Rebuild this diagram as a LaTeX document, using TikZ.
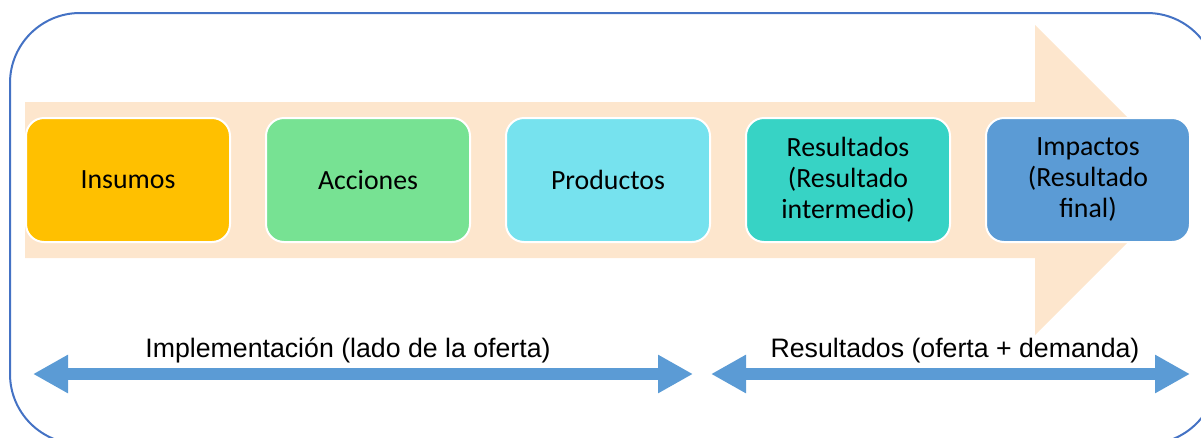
\documentclass[tikz,border=0pt]{standalone}
\usepackage{fontspec}
\setmainfont{Carlito}
\newfontfamily\arialf{Liberation Sans}
\usetikzlibrary{arrows.meta}
\definecolor{frameblue}{HTML}{4472C4}
\definecolor{peach}{HTML}{FDE6CD}
\definecolor{cIns}{HTML}{FFC000}
\definecolor{cAcc}{HTML}{77E293}
\definecolor{cPro}{HTML}{76E2EE}
\definecolor{cRes}{HTML}{37D3C5}
\definecolor{cImp}{HTML}{5B9BD5}
\definecolor{arrblue}{HTML}{5B9BD5}
\tikzset{
  stagebox/.style={draw=white, line width=2pt, rounded corners=18pt,
    minimum width=204pt, minimum height=124pt, align=center, inner sep=2pt,
    font=\fontsize{27.8}{31}\selectfont, text=black},
  spanarrow/.style={arrblue, line width=12pt,
    {Triangle[length=35pt,width=36pt]}-{Triangle[length=35pt,width=36pt]}},
  spanlabel/.style={font=\arialf\fontsize{26.7}{30}\selectfont, anchor=base, text=black}
}
\begin{document}
\begin{tikzpicture}[x=1pt,y=-1pt]
\useasboundingbox (0,0) rectangle (1201,437);
% outer frame
\draw[frameblue, line width=2pt, rounded corners=70pt] (10,13) rectangle (1217,444);
% big peach arrow
\fill[peach] (25,102) -- (1035,102) -- (1035,25) -- (1190,180) -- (1035,335) -- (1035,258) -- (25,258) -- cycle;
% stage boxes
\node[stagebox, fill=cIns] (ins) at (128,180) {Insumos};
\node[stagebox, fill=cAcc] (acc) at (368,180) {Acciones};
\node[stagebox, fill=cPro] (pro) at (608,180) {Productos};
\node[stagebox, fill=cRes] (res) at (848,180) {Resultados\\(Resultado\\intermedio)};
\node[stagebox, fill=cImp] (imp) at (1088,180) {Impactos\\(Resultado\\final)};
% bottom arrows
\coordinate (l1) at (33,374);
\coordinate (l2) at (693,374);
\coordinate (r1) at (711,374);
\coordinate (r2) at (1190,374);
\draw[spanarrow] (l1) -- (l2);
\draw[spanarrow] (r1) -- (r2);
\node[spanlabel] (impl) at (348,357) {Implementación (lado de la oferta)};
\node[spanlabel] (resl) at (955,357) {Resultados (oferta + demanda)};
\end{tikzpicture}
\end{document}
